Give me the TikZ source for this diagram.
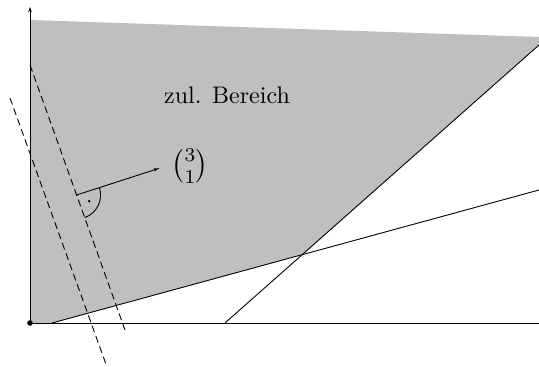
\documentclass[tikz,border=0pt]{standalone}
\usepackage{graphicx}
\usepackage{amsmath}
\usetikzlibrary{arrows.meta,calc}
\begin{document}
\begin{tikzpicture}[x=1pt,y=-1pt,
  ln/.style={line width=0.9pt},
  dsh/.style={line width=0.9pt,dash pattern=on 7pt off 4pt},
  lbl/.style={inner sep=0pt}]
\useasboundingbox (0,0) rectangle (539,367);
\coordinate (O) at (30,323);
\coordinate (Ytop) at (30,7);
\coordinate (Xend) at (539,323);
\coordinate (TL) at (30,20);
\coordinate (TR) at (539,37);
\coordinate (A) at (52,323);
\coordinate (Aend) at (539,190);
\coordinate (B) at (225,323);
\coordinate (Bend) at (539,45);
\coordinate (I) at (intersection of A--Aend and B--Bend);
\fill[black!25] (TL) -- (TR) -- (Bend) -- (I) -- (A) -- (O) -- cycle;
% axes
\draw[ln,-{Stealth[length=5pt,width=3.5pt]}] (O) -- (Ytop);
\draw[ln] (O) -- (Xend);
\fill (O) circle[radius=2.8];
% constraint lines
\draw[ln] (A) -- (Aend);
\draw[ln] (B) -- (Bend);
% dashed level lines
\coordinate (D1a) at (30,65);
\coordinate (D1b) at (125,330);
\coordinate (D2a) at (10,98);
\coordinate (D2b) at (107,367);
\draw[dsh] (D1a) -- (D1b);
\draw[dsh] (D2a) -- (D2b);
% gradient vector
\coordinate (P) at (76.6,195);
\coordinate (Q) at (160,168);
\draw[ln,-{Latex[length=6pt,width=3.5pt]}] (P) -- (Q);
\draw[ln] (P) ++(-18:24) arc[start angle=-18, end angle=70, radius=24];
\fill (P) ++(26:14) circle[radius=1.4];
\node[lbl] (vec) at (190,166) {\scalebox{2.8}{$\binom{3}{1}$}};
\node[lbl] (zul) at (227,95) {\scalebox{2.4}{zul. Bereich}};
\end{tikzpicture}
\end{document}
